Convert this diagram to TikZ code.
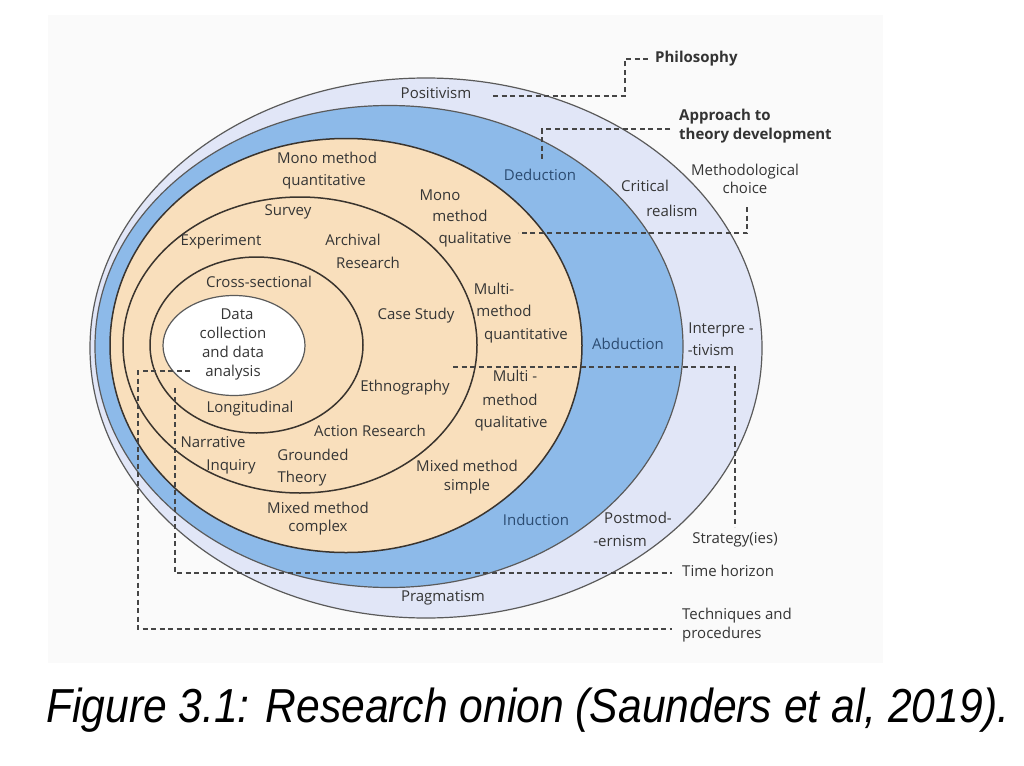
\documentclass[tikz,border=0pt]{standalone}
\usepackage{fontspec}
\setmainfont{Open Sans}
\newfontfamily\capfont{Liberation Sans}
\definecolor{lav}{HTML}{E1E6F7}
\definecolor{ringblue}{HTML}{8DBAE9}
\definecolor{tan}{HTML}{F9DFBC}
\definecolor{ringline}{HTML}{5A5A5A}
\definecolor{innerline}{HTML}{3A342E}
\definecolor{txt}{HTML}{353535}
\definecolor{bluetxt}{HTML}{2C4C72}
\definecolor{dashc}{HTML}{454545}
\definecolor{bgray}{HTML}{FAFAFA}
\tikzset{
  lbl/.style={font=\fontsize{15}{18}\selectfont, text=txt, inner sep=0pt, text height=11pt, text depth=3.5pt},
  blbl/.style={lbl, text=bluetxt},
  hdr/.style={lbl, font=\fontsize{15}{19}\selectfont\bfseries, text=black!80},
  leader/.style={draw=dashc, line width=1.1pt, dash pattern=on 5pt off 3.5pt},
  ring/.style={draw=ringline, line width=1.2pt},
  inring/.style={draw=innerline, line width=1.5pt}
}
\begin{document}
\begin{tikzpicture}[x=1pt,y=-1pt]
\useasboundingbox (0,0) rectangle (1024,765);
\fill[white] (0,0) rectangle (1024,765);
\fill[bgray] (48,15) rectangle (883,663);

% onion layers
\filldraw[ring, fill=lav] (426,348) ellipse [x radius=336pt, y radius=270pt];
\filldraw[ring, fill=ringblue] (389,346.5) ellipse [x radius=294pt, y radius=241pt];
\filldraw[inring, fill=tan] (346,345.5) ellipse [x radius=236pt, y radius=207pt];
\draw[inring] (300,345) ellipse [x radius=177pt, y radius=148pt];
\draw[inring] (256.5,345) ellipse [x radius=106.5pt, y radius=88pt];
\filldraw[ring, fill=white] (234,345.5) ellipse [x radius=71pt, y radius=50pt];

% side labels
\node[hdr, anchor=west] (philo) at (655,59) {Philosophy};
\node[hdr, anchor=west, align=left, text height=, text depth=] (approach) at (679,126) {Approach to\\theory development};
\node[lbl] (meth1) at (745,172) {Methodological};
\node[lbl] (meth2) at (745,190) {choice};
\node[lbl] (strat) at (735,540) {Strategy(ies)};
\node[lbl, anchor=west] (time) at (682,573) {Time horizon};
\node[lbl, anchor=west] (tech1) at (682,616) {Techniques and};
\node[lbl, anchor=west] (tech2) at (682,635) {procedures};

% leader coordinates
\coordinate (ph1) at (493,96);
\coordinate (ph2) at (625,59);
\coordinate (ph3) at (650,59);
\coordinate (ap1) at (670,129);
\coordinate (ap2) at (542,160);
\coordinate (mc1) at (747,207);
\coordinate (mc2) at (518,233);
\coordinate (st1) at (453,367);
\coordinate (st2) at (735,527);
\coordinate (th1) at (175,388);
\coordinate (th2) at (672,573);
\coordinate (tq0) at (190,371);
\coordinate (tq1) at (138,371);
\coordinate (tq2) at (672,629);

\draw[leader] (ph1) -| (ph2) -- (ph3);
\draw[leader] (ap1) -| (ap2);
\draw[leader] (mc1) |- (mc2);
\draw[leader] (st1) -| (st2);
\draw[leader] (th1) |- (th2);
\draw[leader] (tq0) -- (tq1) |- (tq2);

% philosophy ring
\node[lbl] (posit) at (436,95) {Positivism};
\node[lbl] (crit1) at (645,188) {Critical};
\node[lbl] (crit2) at (672,213) {realism};
\node[lbl] (interp1) at (721,330) {Interpre -};
\node[lbl] (interp2) at (711,352) {-tivism};
\node[lbl] (pm1) at (638,520) {Postmod-};
\node[lbl] (pm2) at (620,543) {-ernism};
\node[lbl] (prag) at (443,598) {Pragmatism};

% approach ring
\node[blbl] (deduct) at (540,177) {Deduction};
\node[blbl] (abduct) at (628,346) {Abduction};
\node[blbl] (induct) at (536,522) {Induction};

% methodological choice
\node[lbl] (mmq1) at (327,160) {Mono method};
\node[lbl] (mmq2) at (324,182) {quantitative};
\node[lbl] (mql1) at (440,197) {Mono};
\node[lbl] (mql2) at (460,218) {method};
\node[lbl] (mql3) at (475,240) {qualitative};
\node[lbl] (mqt1) at (494,291) {Multi-};
\node[lbl] (mqt2) at (504,313) {method};
\node[lbl] (mqt3) at (526,336) {quantitative};
\node[lbl] (mmql1) at (515,378) {Multi -};
\node[lbl] (mmql2) at (510,402) {method};
\node[lbl] (mmql3) at (511,424) {qualitative};
\node[lbl] (ms1) at (467,468) {Mixed method};
\node[lbl] (ms2) at (467,487) {simple};
\node[lbl] (mc1t) at (318,510) {Mixed method};
\node[lbl] (mc2t) at (318,528) {complex};

% strategies
\node[lbl] (survey) at (288,212) {Survey};
\node[lbl] (exper) at (221,242) {Experiment};
\node[lbl] (arch1) at (353,242) {Archival};
\node[lbl] (arch2) at (368,265) {Research};
\node[lbl] (casest) at (416,316) {Case Study};
\node[lbl] (ethno) at (405,388) {Ethnography};
\node[lbl] (action) at (370,433) {Action Research};
\node[lbl] (narr1) at (213,444) {Narrative};
\node[lbl] (narr2) at (231,467) {Inquiry};
\node[lbl] (gt1) at (313,457) {Grounded};
\node[lbl] (gt2) at (302,479) {Theory};

% time horizon
\node[lbl] (cross) at (259,284) {Cross-sectional};
\node[lbl] (longi) at (250,409) {Longitudinal};

% core
\node[lbl] (d1) at (237,316) {Data};
\node[lbl] (d2) at (233,335) {collection};
\node[lbl] (d3) at (233,354) {and data};
\node[lbl] (d4) at (233,373) {analysis};

% caption
\node[anchor=base west, inner sep=0pt, font=\capfont\itshape\fontsize{42.6}{50}\selectfont] (caption) at (46,722) {\scalebox{1}[1.12]{Figure 3.1: Research onion (Saunders et al, 2019).}};
\end{tikzpicture}
\end{document}
